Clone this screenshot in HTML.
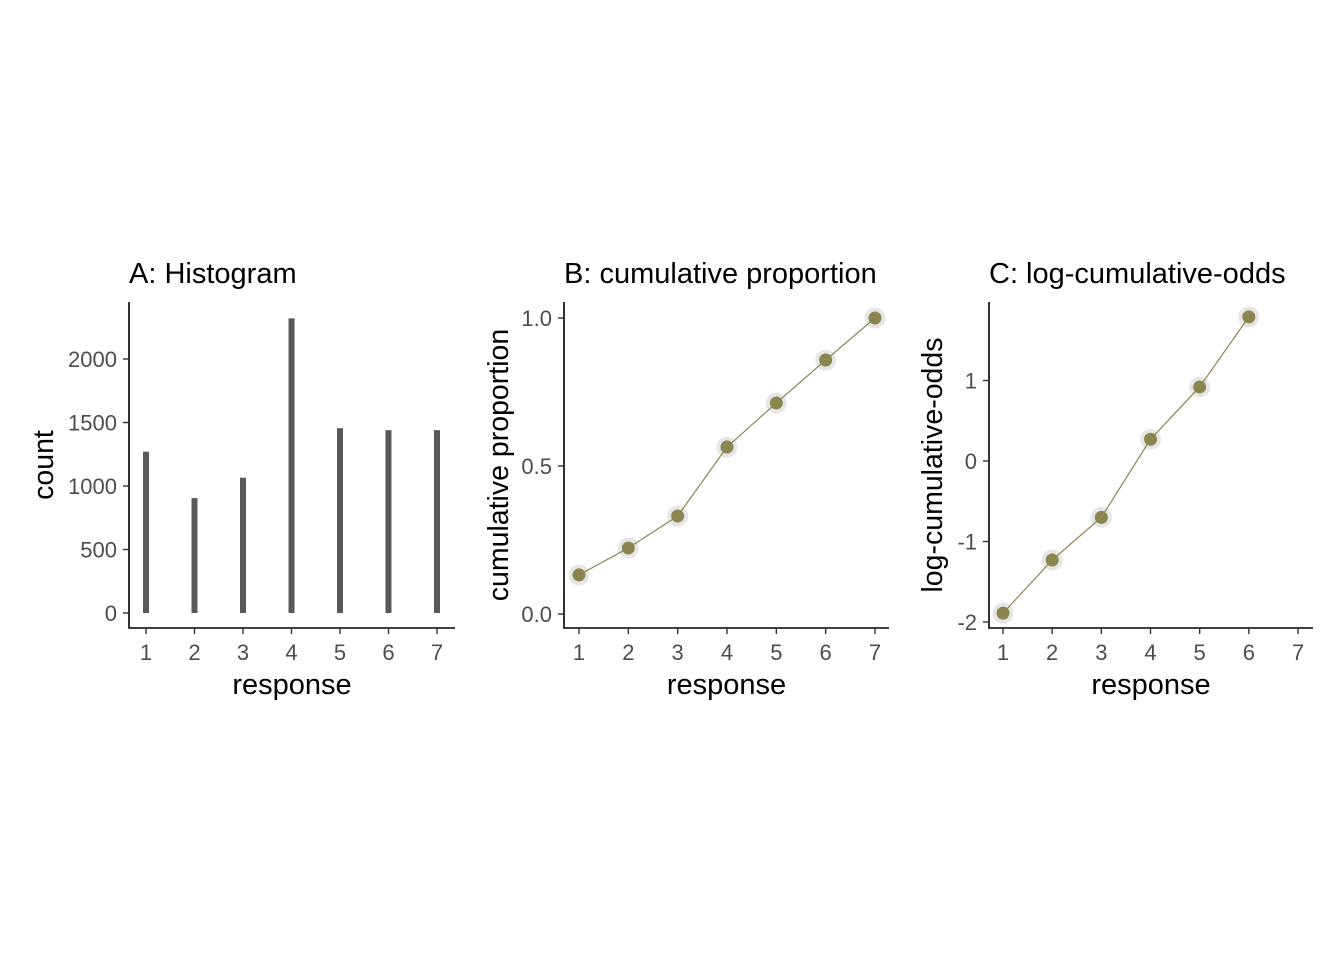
<!DOCTYPE html>
<html><head><meta charset="utf-8"><style>
body{margin:0;background:#fff;}
svg text{font-family:"Liberation Sans",Arial,sans-serif;}
</style></head><body>
<svg width="1344" height="960" xmlns="http://www.w3.org/2000/svg">
<g id="g"></g>
</svg>
<script>
const responses=[1,2,3,4,5,6,7];
const counts=[1270,905,1065,2320,1455,1440,1440];
const cumProp=[0.132,0.223,0.331,0.564,0.713,0.858,1.0];
const logOdds=[-1.89,-1.23,-0.70,0.27,0.92,1.79];
const countTicks=[0,500,1000,1500,2000];
const propTicks=[0.0,0.5,1.0];
const propTickLabels=["0.0","0.5","1.0"];
const oddsTicks=[-2,-1,0,1];
const NS="http://www.w3.org/2000/svg";
const G=document.getElementById('g');
function el(t,a,txt){const e=document.createElementNS(NS,t);for(const k in a)e.setAttribute(k,a[k]);if(txt!==undefined)e.textContent=txt;G.appendChild(e);return e;}
function lin(d0,d1,r0,r1){return v=>r0+(v-d0)*(r1-r0)/(d1-d0);}
function panel(o){
 const t=el('text',{x:o.x0,y:283,'font-size':29,fill:'#000'},o.title);
 
 const ax=el('path',{d:`M${o.x0} 302V628H${o.x1}`,stroke:'#000','stroke-width':1.6,fill:'none'});
 
 responses.forEach(r=>{const x=o.sx(r);
  el('line',{x1:x,x2:x,y1:628,y2:634,stroke:'#333','stroke-width':1.4});
  const l=el('text',{x:x,y:660,'font-size':22,fill:'#4d4d4d','text-anchor':'middle'},r);
  });
 o.yt.forEach((v,i)=>{const y=o.sy(v);
  el('line',{x1:o.x0-6,x2:o.x0,y1:y,y2:y,stroke:'#333','stroke-width':1.4});
  const l=el('text',{x:o.x0-12,y:y+8,'font-size':22,fill:'#4d4d4d','text-anchor':'end'},o.yl[i]);
  });
 const xt=el('text',{x:(o.x0+o.x1)/2,y:694,'font-size':29,fill:'#000','text-anchor':'middle'},'response');
 
 const yx=o.ytx,yy=465;
 const yt=el('text',{x:yx,y:yy,'font-size':28.5,fill:'#000','text-anchor':'middle',transform:`rotate(-90 ${yx} ${yy})`},o.ylab);
 
}
// A
const ax=lin(1,7,146,437), ay=lin(0,2000,613,359);
panel({key:'histogram',title:'A: Histogram',x0:129,x1:455,sx:ax,sy:ay,yt:countTicks,yl:countTicks,ylab:'count',ytx:53});
counts.forEach((c,i)=>{const b=el('rect',{x:ax(responses[i])-3,y:ay(c),width:6,height:ay(0)-ay(c),fill:'#595959'});
 });
// B
const bx=lin(1,7,579,875), by=lin(0,1,614,318);
panel({key:'cumulative',title:'B: cumulative proportion',x0:564,x1:889,sx:bx,sy:by,yt:propTicks,yl:propTickLabels,ylab:'cumulative proportion',ytx:508});
function series(vals,sx,sy,key){
 vals.forEach((v,i)=>{el('circle',{cx:sx(responses[i]),cy:sy(v),r:10.5,fill:'#e6e6e6'});});
 const pts=vals.map((v,i)=>sx(responses[i])+','+sy(v)).join(' ');
 const pl=el('polyline',{points:pts,fill:'none',stroke:'#8b8650','stroke-width':1.2});
 
 vals.forEach((v,i)=>{const c=el('circle',{cx:sx(responses[i]),cy:sy(v),r:6.5,fill:'#8b8650'});
  });
}
series(cumProp,bx,by,'cumulative');
// C
const cx=lin(1,7,1003,1298), cy=lin(0,1,461,380.5);
panel({key:'logodds',title:'C: log-cumulative-odds',x0:989,x1:1313,sx:cx,sy:cy,yt:oddsTicks,yl:oddsTicks,ylab:'log-cumulative-odds',ytx:942});
series(logOdds,cx,cy,'logodds');
</script>
</body></html>
